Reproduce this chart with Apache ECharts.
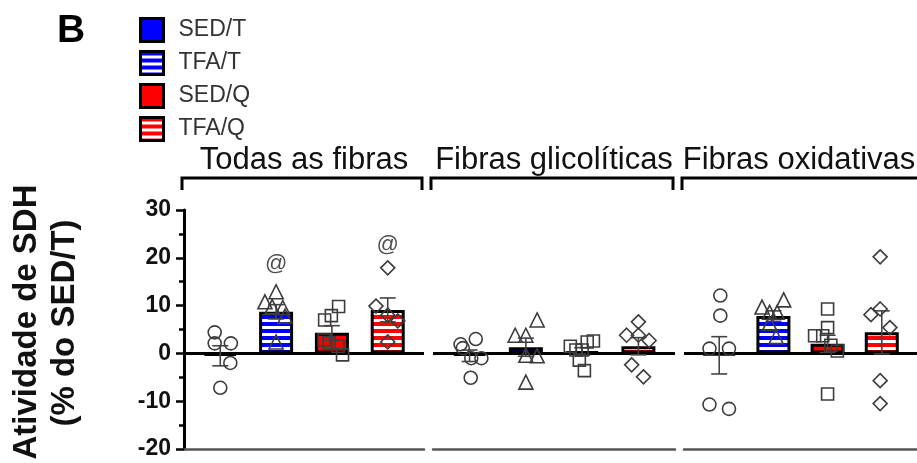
<!DOCTYPE html>
<html>
<head>
<meta charset="utf-8">
<script src="https://cdn.jsdelivr.net/npm/echarts@6/dist/echarts.min.js"></script>
<style>
  html, body { margin: 0; padding: 0; background: #fff; }
  #chart { width: 917px; height: 463px; }
</style>
</head>
<body>
<div id="chart"></div>
<script>
// ---- Data ----------------------------------------------------------------
const panelNames = ['Todas as fibras', 'Fibras glicolíticas', 'Fibras oxidativas'];
const groupNames = ['SED/T', 'TFA/T', 'SED/Q', 'TFA/Q'];

const yMin = -20;
const yMax = 30;
const yStep = 10;

// Group means (bar heights) and SEM, in groupNames order
const meanTodas = [-0.5, 8.7, 4.3, 9.1];
const semTodas  = [2.1, 1.5, 1.5, 2.5];
const meanGlico = [-0.5, 1.3, 0.4, 1.5];
const semGlico  = [1.2, 1.9, 0.8, 1.8];
const meanOxid  = [-0.4, 7.8, 2.0, 4.4];
const semOxid   = [3.9, 1.1, 1.8, 4.5];

// Individual animals
const todasSEDT = [4.4, 2.1, 2.1, -2.0, -7.2];
const todasTFAT = [12.9, 10.8, 9.8, 9.6, 7.8, 2.4];
const todasSEDQ = [9.8, 7.9, 7.0, 2.8, 2.2, 1.5, -0.3];
const todasTFAQ = [17.9, 9.9, 8.0, 6.8, 2.4];

const glicoSEDT = [1.9, 3.0, 1.1, -1.0, -1.0, -5.1];
const glicoTFAT = [7.0, 3.8, 3.8, -0.4, -0.5, -6.0];
const glicoSEDQ = [1.5, 0.7, 0.7, 2.4, 2.6, -1.4, -3.6];
const glicoTFAQ = [6.6, 3.8, 3.8, 2.7, -2.4, -4.9];

const oxidSEDT = [12.1, 7.9, 1.0, 1.0, -10.7, -11.6];
const oxidTFAT = [11.2, 9.7, 8.6, 8.6, 6.3, 3.5];
const oxidSEDQ = [9.3, 5.4, 3.7, 3.7, 1.7, 0.5, -8.5];
const oxidTFAQ = [20.2, 9.3, 8.1, 5.4, -5.7, -10.5];

// Significance marks (panel "Todas as fibras"): group index and height
const signifGroup = [1, 3];
const signifY = [18.8, 22.6];
const signifText = '@';

// ---- Layout helpers ------------------------------------------------------
// horizontal scatter of the dots around each bar (in bar-slot units)
const spreadTodas = [
  [-0.1, -0.1, 0.19, 0.18, 0],
  [0, -0.2, -0.07, 0.12, 0.16, 0],
  [0.12, -0.01, -0.13, -0.14, -0.05, 0.11, 0.19],
  [0, -0.21, 0, 0.18, 0]
];
const spreadGlico = [
  [-0.16, 0.11, -0.12, 0.03, 0.21, 0.02],
  [0.2, -0.19, 0, 0, 0.2, 0],
  [-0.21, -0.11, 0, 0.09, 0.2, -0.05, 0.04],
  [0, -0.21, 0, 0.19, -0.12, 0.09]
];
const spreadOxid = [
  [0.02, 0.02, -0.18, 0.18, -0.18, 0.18],
  [0.19, -0.21, -0.07, 0.07, -0.07, 0.05],
  [0, 0, -0.24, -0.09, 0.06, 0.18, 0],
  [-0.03, -0.03, -0.2, 0.15, -0.03, -0.03]
];

const panelMeans = [meanTodas, meanGlico, meanOxid];
const panelSems = [semTodas, semGlico, semOxid];
const panelPoints = [
  [todasSEDT, todasTFAT, todasSEDQ, todasTFAQ],
  [glicoSEDT, glicoTFAT, glicoSEDQ, glicoTFAQ],
  [oxidSEDT, oxidTFAT, oxidSEDQ, oxidTFAQ]
];
const panelSpread = [spreadTodas, spreadGlico, spreadOxid];

const FONT = '"Liberation Sans", Arial, Helvetica, sans-serif';
const gridLeft = [184, 433, 684];
const gridWidth = [240, 242, 240];
const gridTop = 210;
const gridHeight = 239;

// Striped fill: base colour with white horizontal bands
function stripes(color) {
  const c = document.createElement('canvas');
  c.width = 8; c.height = 7;
  const ctx = c.getContext('2d');
  ctx.fillStyle = color; ctx.fillRect(0, 0, 8, 7);
  ctx.fillStyle = '#ffffff'; ctx.fillRect(0, 4, 8, 3);
  return { image: c, repeat: 'repeat' };
}
const BLUE = '#0000ff';
const RED = '#ff0000';
const groupFill = [BLUE, stripes(BLUE), RED, stripes(RED)];
const groupSymbol = ['circle', 'triangle', 'rect', 'diamond'];
const groupSymbolSize = [13, 14, 12, 14];

// ---- Chart ---------------------------------------------------------------
const chart = echarts.init(document.getElementById('chart'), null, { renderer: 'canvas' });

const grids = [], xAxes = [], yAxes = [], series = [];

panelNames.forEach((p, i) => {
  grids.push({ left: gridLeft[i], top: gridTop, width: gridWidth[i], height: gridHeight });
  xAxes.push({
    gridIndex: i, type: 'value', min: -0.65, max: 3.65,
    axisLine: { show: true, onZero: false, lineStyle: { color: '#555', width: 2.5 } },
    axisTick: { show: false }, axisLabel: { show: false }, splitLine: { show: false }
  });
  yAxes.push({
    gridIndex: i, type: 'value', min: yMin, max: yMax, interval: yStep,
    show: i === 0,
    axisLine: { show: true, onZero: false, lineStyle: { color: '#000', width: 3 } },
    axisTick: { show: true, length: 8, lineStyle: { color: '#000', width: 2.5 } },
    minorTick: { show: true, splitNumber: 2, length: 5, lineStyle: { color: '#000', width: 2.5 } },
    axisLabel: { fontFamily: FONT, fontSize: 23, fontWeight: 'bold', color: '#111', margin: 13 },
    splitLine: { show: false }, minorSplitLine: { show: false }
  });

  // bars
  groupNames.forEach((g, k) => {
    const s = {
      type: 'bar', name: g, xAxisIndex: i, yAxisIndex: i,
      barWidth: 34, barGap: '-100%',
      data: [[k, panelMeans[i][k]]],
      itemStyle: { color: groupFill[k], borderColor: '#000', borderWidth: 3 },
      z: 2, silent: true
    };
    if (k === 0) {
      s.markLine = {
        silent: true, symbol: ['none', 'none'], label: { show: false },
        lineStyle: { color: '#000', width: 3, type: 'solid' },
        data: [{ yAxis: 0 }], z: 3
      };
    }
    series.push(s);
  });

  // error bars (mean ± SEM)
  series.push({
    type: 'custom', name: p + ' SEM', xAxisIndex: i, yAxisIndex: i, z: 4, silent: true,
    data: groupNames.map((g, k) => [k, panelMeans[i][k], panelSems[i][k]]),
    renderItem: function (params, api) {
      const x = api.value(0), m = api.value(1), e = api.value(2);
      const top = api.coord([x, m + e]);
      const bot = api.coord([x, m - e]);
      const half = 8;
      const st = { stroke: '#444', lineWidth: 1.6 };
      return {
        type: 'group',
        children: [
          { type: 'line', shape: { x1: top[0], y1: top[1], x2: bot[0], y2: bot[1] }, style: st },
          { type: 'line', shape: { x1: top[0] - half, y1: top[1], x2: top[0] + half, y2: top[1] }, style: st },
          { type: 'line', shape: { x1: bot[0] - half, y1: bot[1], x2: bot[0] + half, y2: bot[1] }, style: st }
        ]
      };
    }
  });

  // individual points
  groupNames.forEach((g, k) => {
    const vals = panelPoints[i][k];
    const spread = panelSpread[i][k];
    series.push({
      type: 'scatter', name: g + ' individual', xAxisIndex: i, yAxisIndex: i, z: 5, silent: true,
      symbol: groupSymbol[k], symbolSize: groupSymbolSize[k],
      itemStyle: { color: 'rgba(255,255,255,0)', borderColor: '#3c3c3c', borderWidth: 1.6, opacity: 1 },
      data: vals.map((v, n) => [k + spread[n], v])
    });
  });
});

// "@" marks
series.push({
  type: 'scatter', name: 'signif', xAxisIndex: 0, yAxisIndex: 0, z: 6, silent: true,
  symbolSize: 1, itemStyle: { color: 'rgba(0,0,0,0)' },
  label: { show: true, position: 'inside', formatter: signifText, fontFamily: FONT, fontSize: 22, color: '#222' },
  data: signifGroup.map((k, n) => [k, signifY[n]])
});

// headings with brackets
const graphics = [];
panelNames.forEach((p, i) => {
  const x0 = gridLeft[i] - 2;
  const x1 = gridLeft[i] + gridWidth[i] - 2;
  graphics.push({
    type: 'polyline', silent: true,
    shape: { points: [[x0, 190], [x0, 178], [x1, 178], [x1, 190]] },
    style: { stroke: '#000', lineWidth: 3, fill: null }
  });
  graphics.push({
    type: 'text', silent: true, x: (x0 + Math.min(x1, 912)) / 2 + 2, y: 160,
    style: { text: p, font: '31px ' + FONT, fill: '#111', textAlign: 'center', textVerticalAlign: 'middle' }
  });
});

// panel letter
graphics.push({
  type: 'text', silent: true, x: 71, y: 31,
  style: { text: 'B', font: 'bold 39px ' + FONT, fill: '#000', textAlign: 'center', textVerticalAlign: 'middle' }
});

// y-axis title (two lines, rotated)
graphics.push({
  type: 'text', silent: true, x: 27, y: 322, rotation: Math.PI / 2,
  style: { text: 'Atividade de SDH', font: 'bold 33px ' + FONT, fill: '#111', textAlign: 'center', textVerticalAlign: 'middle' }
});
graphics.push({
  type: 'text', silent: true, x: 65, y: 323, rotation: Math.PI / 2,
  style: { text: '(% do SED/T)', font: 'bold 33px ' + FONT, fill: '#111', textAlign: 'center', textVerticalAlign: 'middle' }
});

chart.setOption({
  animation: false,
  backgroundColor: '#fff',
  legend: {
    data: groupNames, orient: 'vertical', left: 139, top: 17, padding: 0,
    itemWidth: 23, itemHeight: 23, itemGap: 7, icon: 'rect', selectedMode: false,
    itemStyle: { borderColor: '#000', borderWidth: 3 },
    textStyle: { fontFamily: FONT, fontSize: 23, color: '#333', lineHeight: 23, padding: [0, 0, 0, 10] }
  },
  grid: grids,
  xAxis: xAxes,
  yAxis: yAxes,
  series: series,
  graphic: graphics
});
</script>
</body>
</html>
